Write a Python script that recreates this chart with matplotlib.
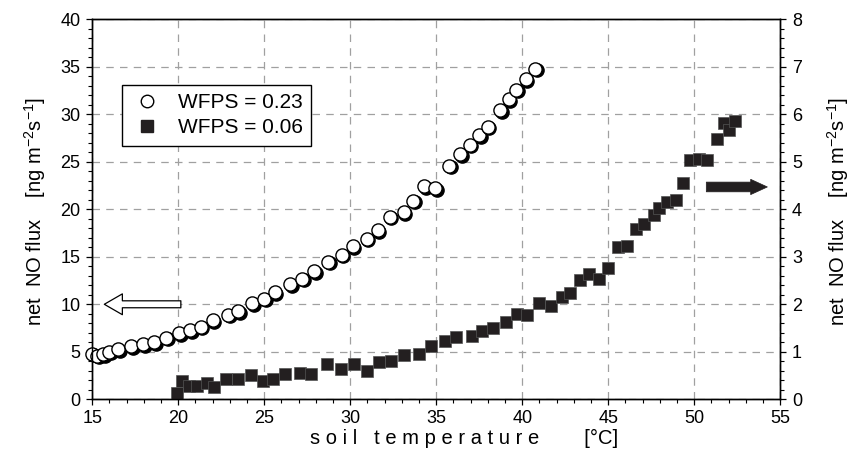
import matplotlib
matplotlib.use("Agg")
import matplotlib.pyplot as plt
from matplotlib.ticker import MultipleLocator
from matplotlib.transforms import offset_copy

# WFPS = 0.23 (left axis, ng m-2 s-1)
temp_wet = [15.0, 15.3, 15.65, 16.0, 16.5, 17.25, 17.95, 18.6, 19.3, 20.05,
            20.7, 21.3, 22.0, 22.9, 23.5, 24.3, 25.0, 25.6, 26.5, 27.2,
            27.9, 28.7, 29.5, 30.15, 30.95, 31.6, 32.3, 33.1, 33.65, 34.3,
            34.95, 35.75, 36.4, 36.95, 37.5, 38.0, 38.7, 39.2, 39.65, 40.2,
            40.75]
flux_wet = [4.8, 4.6, 4.75, 5.0, 5.3, 5.6, 5.8, 6.0, 6.5, 6.95,
            7.3, 7.65, 8.3, 8.9, 9.3, 10.1, 10.6, 11.3, 12.1, 12.7,
            13.5, 14.5, 15.2, 16.1, 16.9, 17.8, 19.2, 19.7, 20.9, 22.4,
            22.2, 24.6, 25.8, 26.8, 27.8, 28.7, 30.4, 31.6, 32.6, 33.7,
            34.8]

# WFPS = 0.06 (right axis, ng m-2 s-1)
temp_dry = [19.95, 20.2, 20.6, 21.07, 21.65, 22.1, 22.75, 23.5, 24.23, 24.9,
            25.5, 26.2, 27.07, 27.7, 28.66, 29.44, 30.23, 30.95, 31.67, 32.37,
            33.1, 34.0, 34.7, 35.5, 36.13, 37.06, 37.64, 38.3, 39.05, 39.67,
            40.3, 41.0, 41.66, 42.3, 42.8, 43.35, 43.9, 44.45, 45.0, 45.55,
            46.1, 46.6, 47.05, 47.65, 47.95, 48.4, 48.95, 49.35, 49.75, 50.3,
            50.75, 51.3, 51.75, 52.0, 52.35]
flux_dry = [0.13, 0.39, 0.27, 0.29, 0.35, 0.25, 0.43, 0.43, 0.51, 0.39,
            0.43, 0.53, 0.56, 0.53, 0.74, 0.63, 0.74, 0.6, 0.78, 0.81,
            0.94, 0.96, 1.12, 1.23, 1.32, 1.34, 1.43, 1.5, 1.62, 1.8,
            1.78, 2.03, 1.96, 2.15, 2.23, 2.52, 2.63, 2.53, 2.77, 3.21,
            3.23, 3.59, 3.68, 3.88, 4.02, 4.15, 4.2, 4.55, 5.03, 5.05,
            5.04, 5.48, 5.82, 5.67, 5.85]

labels = ["WFPS = 0.23", "WFPS = 0.06"]
ylabel = "net  NO flux    [ng m$^{-2}$s$^{-1}$]"

plt.rcParams["font.family"] = ["Liberation Sans", "DejaVu Sans"]
plt.rcParams["mathtext.fontset"] = "custom"
plt.rcParams["mathtext.rm"] = "Liberation Sans"
plt.rcParams["mathtext.it"] = "Liberation Sans"

fig = plt.figure(figsize=(8.52, 4.67), dpi=100)
ax = fig.add_axes([0.1083, 0.145, 0.8075, 0.8137])
ax2 = ax.twinx()

ax.set_xlim(15, 55)
ax.set_ylim(0, 40)
ax2.set_ylim(0, 8)

ax.xaxis.set_major_locator(MultipleLocator(5))
ax.xaxis.set_minor_locator(MultipleLocator(1))
ax.yaxis.set_major_locator(MultipleLocator(5))
ax.yaxis.set_minor_locator(MultipleLocator(1))
ax2.yaxis.set_major_locator(MultipleLocator(1))
ax2.yaxis.set_minor_locator(MultipleLocator(0.2))

for a in (ax, ax2):
    a.tick_params(which="major", direction="out", length=4.5, width=0.9,
                  labelsize=13, pad=4)
    a.tick_params(which="minor", direction="out", length=2.8, width=0.8)
    for sp in a.spines.values():
        sp.set_linewidth(1.0)
ax.tick_params(top=False, which="both")
ax.tick_params(axis="x", pad=3)

ax.grid(True, which="major", color="#a0a0a0", linestyle=(0, (6, 5)),
        linewidth=0.9)
ax.set_axisbelow(True)

# filled squares on the right axis
ax2.plot(temp_dry, flux_dry, linestyle="none", marker="s", markersize=8.5,
         markerfacecolor="#231f20", markeredgecolor="#555555",
         markeredgewidth=0.5, clip_on=False)

# open circles with a small dark drop shadow, left axis
for x, y in zip(temp_wet, flux_wet):
    ax.plot([x], [y], linestyle="none", marker="o", markersize=9.5,
            color="black", transform=offset_copy(ax.transData, fig=fig,
                                                 x=1.6, y=-1.6, units="dots"),
            clip_on=False, zorder=3)
    ax.plot([x], [y], linestyle="none", marker="o", markersize=9.5,
            markerfacecolor="white", markeredgecolor="black",
            markeredgewidth=1.0, clip_on=False, zorder=3)

# legend proxies
h1, = ax2.plot([], [], linestyle="none", marker="o", markersize=9,
               markerfacecolor="white", markeredgecolor="black")
h2, = ax2.plot([], [], linestyle="none", marker="s", markersize=8,
               markerfacecolor="#231f20", markeredgecolor="#231f20")
leg = ax2.legend([h1, h2], labels, loc="upper left",
                 bbox_to_anchor=(0.043, 0.828), fontsize=15, frameon=True,
                 fancybox=False, edgecolor="black", framealpha=1,
                 handletextpad=0.7, borderpad=0.4, labelspacing=0.3,
                 handlelength=1.6, borderaxespad=0)
leg.get_frame().set_linewidth(1.0)

# arrows pointing to the matching axis
ax.annotate("", xy=(15.7, 10), xytext=(20.15, 10),
            arrowprops=dict(arrowstyle="simple,head_length=13,head_width=15,tail_width=5",
                            mutation_scale=1, fc="white", ec="black", lw=0.9,
                            shrinkA=0, shrinkB=0))
ax2.annotate("", xy=(54.25, 4.47), xytext=(50.7, 4.47),
             arrowprops=dict(arrowstyle="simple,head_length=12,head_width=11,tail_width=7",
                             mutation_scale=1, fc="#231f20", ec="#231f20", lw=0.5,
                             shrinkA=0, shrinkB=0))

ax.set_xlabel("s o i l   t e m p e r a t u r e        [°C]", fontsize=14.5)
ax.xaxis.set_label_coords(0.54, -0.078)

fig.text(35 / 852, 1 - 212 / 467, ylabel, rotation=90, fontsize=14.5,
         ha="center", va="center")
fig.text(838 / 852, 1 - 212 / 467, ylabel, rotation=90, fontsize=14.5,
         ha="center", va="center")

fig.savefig("out.png", dpi=100)
